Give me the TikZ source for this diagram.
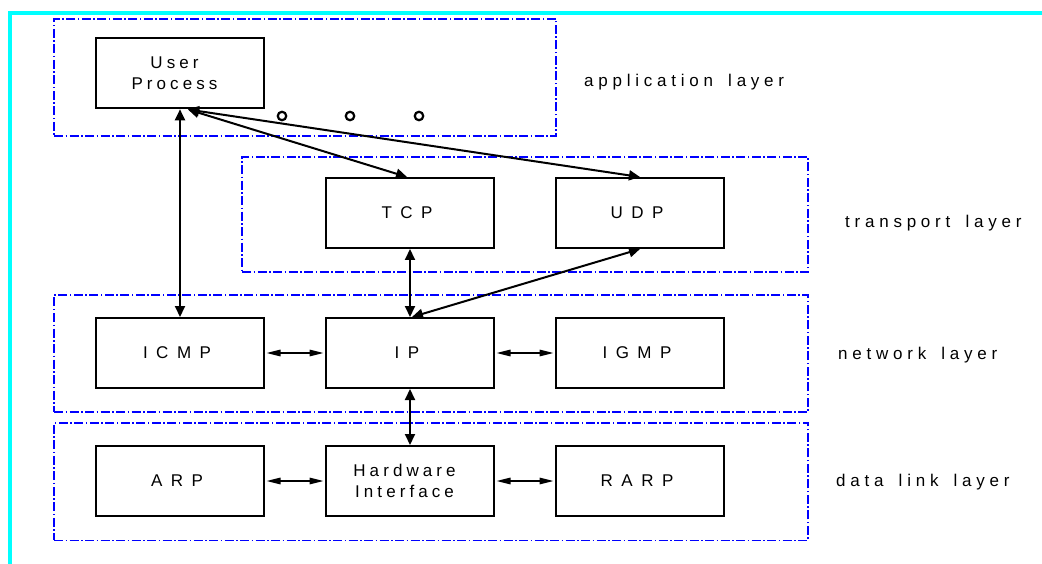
\documentclass[tikz,border=0pt]{standalone}
\usepackage{fontspec}
\setmainfont{Liberation Sans}[LetterSpace=28,WordSpace=1.6]
\newfontfamily\capsfont{Liberation Sans}[LetterSpace=50]
\newfontfamily\boxfont{Liberation Sans}[LetterSpace=24]
\usetikzlibrary{arrows.meta,calc}
\definecolor{framecyan}{RGB}{0,255,255}
\definecolor{layerblue}{RGB}{0,0,255}
% pull a tracked label line back towards the box centre
\newcommand\capsln{\hspace*{-6pt}}
\newcommand\lowln{\hspace*{-11pt}}

\begin{document}
\begin{tikzpicture}[x=1pt,y=-1pt,
  every node/.style={font=\fontsize{17}{21}\selectfont},
  blk/.style={draw=black, line width=2pt, minimum width=168pt, minimum height=70pt,
    inner sep=0pt, align=center},
  caps/.style={font=\fontsize{17}{21}\capsfont},
  lower/.style={font=\fontsize{17}{21}\boxfont},
  layerbox/.style={draw=layerblue, line width=1.9pt,
    dash pattern=on 9pt off 2.5pt on 1.5pt off 2.5pt, inner sep=0pt},
  layertxt/.style={anchor=base west, inner sep=0pt},
  dbl/.style={line width=2pt, {Triangle[length=11pt,width=10pt]}-{Triangle[length=11pt,width=10pt]}},
  side/.style={line width=1.6pt, shorten <=1.5pt, shorten >=1.5pt,
    {Triangle[length=14pt,width=6.5pt]}-{Triangle[length=14pt,width=6.5pt]}},
  ellip/.style={circle, draw=black, line width=2.2pt, minimum size=8.5pt, inner sep=0pt}
]
\useasboundingbox (0,0) rectangle (1042,564);

% frame lines
\draw[framecyan, line width=4pt] (10.3,564) -- (10.3,12.7) -- (1042,12.7);

% layer regions
\node[layerbox, minimum width=502pt, minimum height=117.5pt] (applayer) at (305,77.7) {};
\node[layerbox, minimum width=566pt, minimum height=115pt] (translayer) at (525,214.2) {};
\node[layerbox, minimum width=754pt, minimum height=117pt] (netlayer) at (431,353.5) {};
\node[layerbox, minimum width=754pt, minimum height=117.5pt] (linklayer) at (431,481.7) {};

% protocol boxes
\node[blk, lower] (UP) at (180,73.3) {\lowln User\\\lowln Process};
\node[blk, caps] (TCP) at (410,213) {\capsln TCP};
\node[blk, caps] (UDP) at (640,213) {\capsln UDP};
\node[blk, caps] (ICMP) at (180,353) {\capsln ICMP};
\node[blk, caps] (IP) at (410,353) {\capsln IP};
\node[blk, caps] (IGMP) at (640,353) {\capsln IGMP};
\node[blk, caps] (ARP) at (180,481) {\capsln ARP};
\node[blk, lower] (HW) at (410,481) {\lowln Hardware\\\lowln Interface};
\node[blk, caps] (RARP) at (640,481) {\capsln RARP};

% ellipsis circles
\node[ellip] (d1) at (282,116) {};
\node[ellip] (d2) at (350,116) {};
\node[ellip] (d3) at (419,116) {};

% layer names
\node[layertxt] (lapp) at (584,86.7) {application layer};
\node[layertxt] (ltrans) at (845,227.7) {transport layer};
\node[layertxt] (lnet) at (838,359) {network layer};
\node[layertxt] (llink) at (836,486.7) {data link layer};

% connections
\coordinate (upj) at (188,109.5);
\draw[dbl] (UP.south) -- (ICMP.north);
\draw[dbl] (upj) -- ($(TCP.north)+(-3,0)$);
\draw[dbl] (upj) -- (UDP.north);
\draw[dbl] (TCP.south) -- (IP.north);
\draw[dbl] (UDP.south) -- ($(IP.north)+(2,0)$);
\draw[dbl] (IP.south) -- (HW.north);
\draw[side] (ICMP.east) -- (IP.west);
\draw[side] (IP.east) -- (IGMP.west);
\draw[side] (ARP.east) -- (HW.west);
\draw[side] (HW.east) -- (RARP.west);
\end{tikzpicture}
\end{document}
